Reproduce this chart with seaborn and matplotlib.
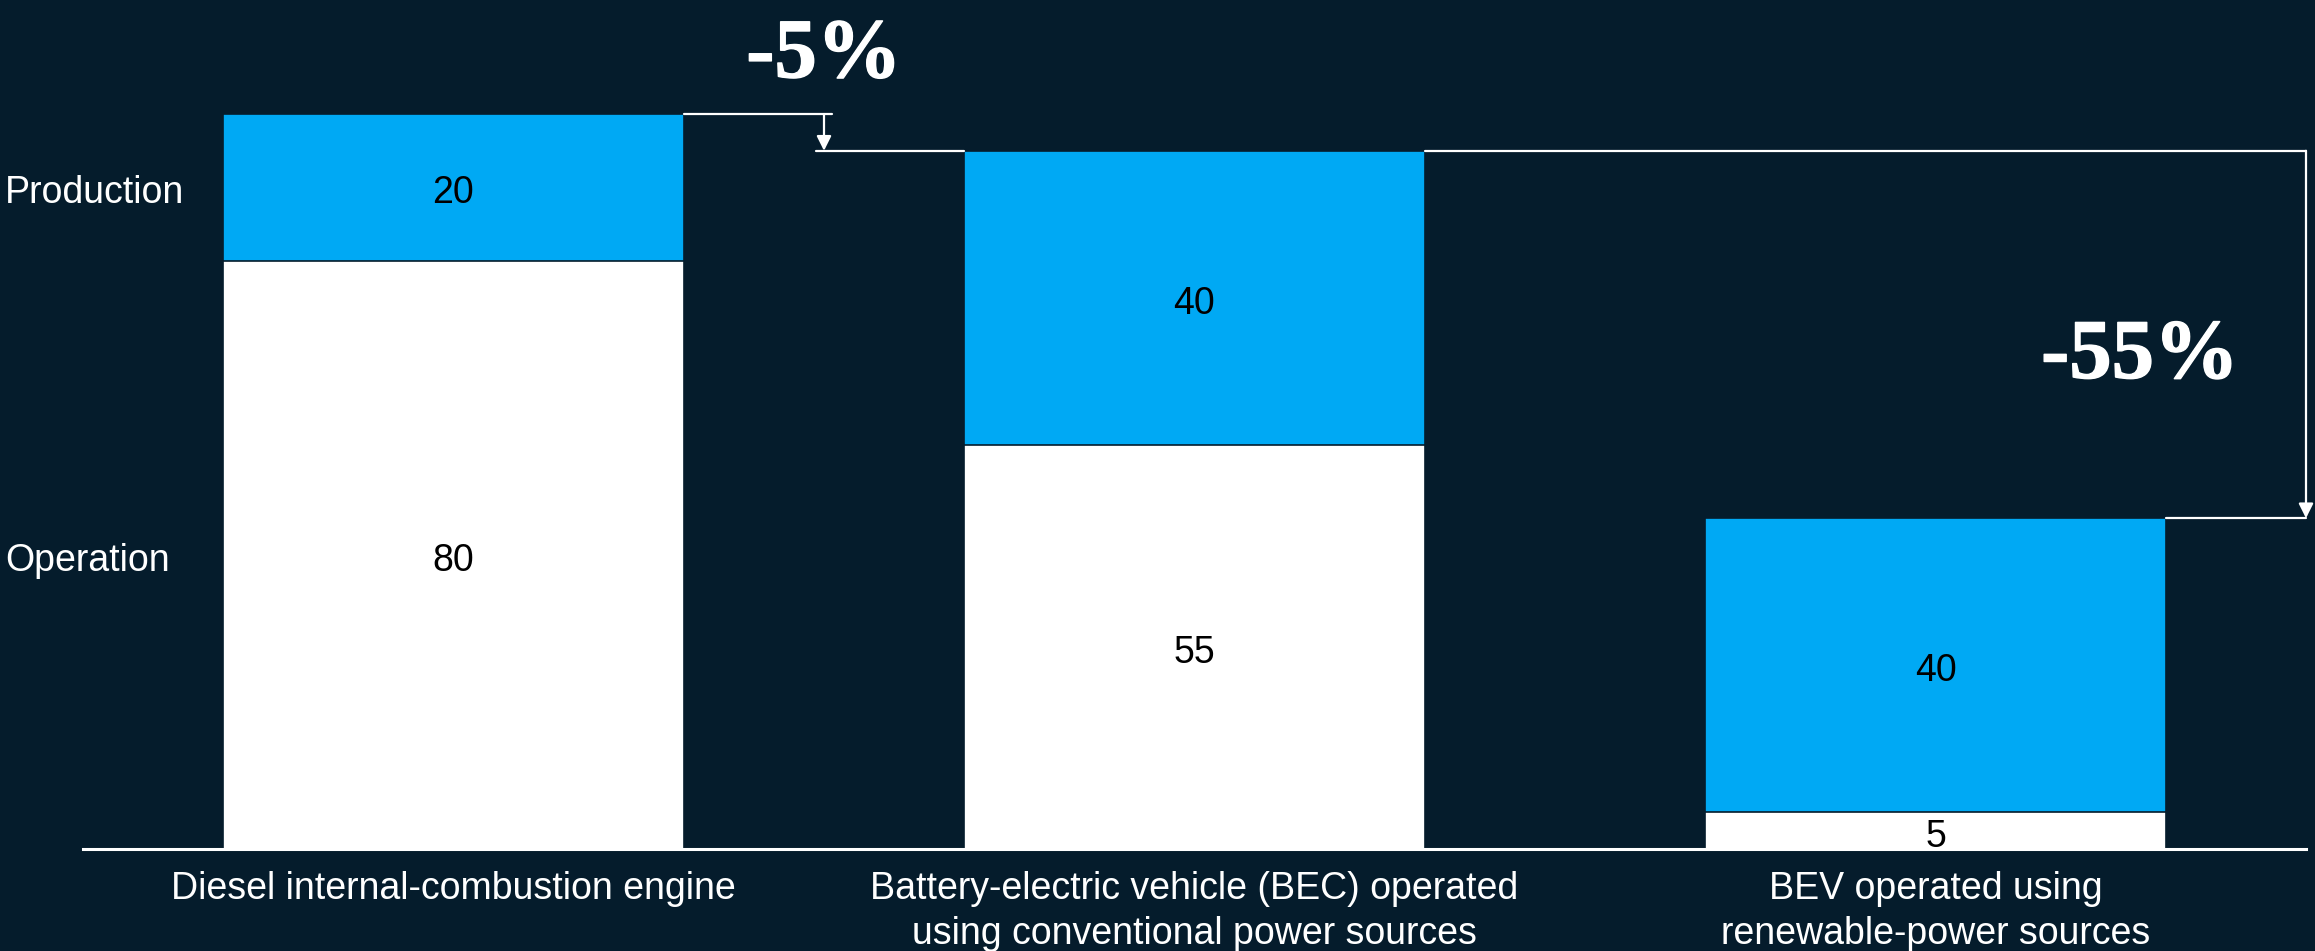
import matplotlib
matplotlib.use("Agg")
import matplotlib.pyplot as plt
import matplotlib.transforms as mtransforms
import matplotlib.patheffects as pe
import seaborn as sns
import pandas as pd

# ---- data ----
categories = [
    "Diesel internal-combustion engine",
    "Battery-electric vehicle (BEC) operated\nusing conventional power sources",
    "BEV operated using\nrenewable-power sources",
]
operation = [80, 55, 5]
production = [20, 40, 40]
series_names = ["Operation", "Production"]
change_labels = ["-5%", "-55%"]

BG = "#051C2C"
BLUE = "#00A9F4"
WHITE = "#FFFFFF"

sns.set_theme(style="white")
plt.rcParams["font.family"] = ["Liberation Sans", "DejaVu Sans"]

totals = [o + p for o, p in zip(operation, production)]
df = pd.DataFrame({"category": categories, "operation": operation,
                   "production": production, "total": totals})

fig = plt.figure(figsize=(23.15, 9.51), dpi=100, facecolor=BG)
ax = fig.add_axes([83 / 2315, 102 / 951, 2223 / 2315, 849 / 951])
ax.set_facecolor(BG)

bw = 0.622
sns.barplot(data=df, x="category", y="total", color=BLUE, saturation=1,
            width=bw, edgecolor=BG, linewidth=1.2, ax=ax, order=categories)
sns.barplot(data=df, x="category", y="operation", color=WHITE, saturation=1,
            width=bw, edgecolor=BG, linewidth=1.2, ax=ax, order=categories)

ax.set_xlim(-0.5, 2.5)
ax.set_ylim(0, 849 / 7.35)
ax.set_xlabel("")
ax.set_ylabel("")
ax.set_yticks([])
for s in ["left", "top", "right"]:
    ax.spines[s].set_visible(False)
ax.spines["bottom"].set_color(WHITE)
ax.spines["bottom"].set_linewidth(2.2)
ax.spines["bottom"].set_zorder(5)
ax.tick_params(axis="x", length=0, pad=16, labelsize=27, labelcolor=WHITE)
for lab in ax.get_xticklabels():
    lab.set_linespacing(1.32)

# text slightly lowered to match reference
low = mtransforms.offset_copy(ax.transData, fig=fig, x=0, y=-4.3, units="points")

# segment value labels
fs = 27
for i in range(len(categories)):
    ax.text(i, operation[i] / 2, str(operation[i]), ha="center", va="center",
            fontsize=fs, color="black", transform=low)
    ax.text(i, operation[i] + production[i] / 2, str(production[i]),
            ha="center", va="center", fontsize=fs, color="black", transform=low)

# series labels at left, aligned with first bar segments
ax.text(-0.605, operation[0] + production[0] / 2, series_names[1],
        ha="left", va="center", fontsize=fs, color=WHITE, clip_on=False,
        transform=low)
ax.text(-0.605, operation[0] / 2, series_names[0],
        ha="left", va="center", fontsize=fs, color=WHITE, clip_on=False,
        transform=low)

# change annotations
lw = 1.6
h = bw / 2
bold = [pe.withStroke(linewidth=1.0, foreground=WHITE)]
serif = ["Liberation Serif", "DejaVu Serif"]
# -5%: bar 0 -> bar 1
ax.plot([h, 0.511], [totals[0], totals[0]], color=WHITE, lw=lw, clip_on=False)
ax.plot([0.489, 1 - h], [totals[1], totals[1]], color=WHITE, lw=lw, clip_on=False)
ax.annotate("", xy=(0.5, totals[1]), xytext=(0.5, totals[0]),
            arrowprops=dict(arrowstyle="-|>", color=WHITE, lw=lw,
                            mutation_scale=22, shrinkA=0, shrinkB=0))
ax.text(0.5, 105, change_labels[0], ha="center", va="baseline",
        fontsize=61, color=WHITE, fontweight="bold", family=serif,
        path_effects=bold)

# -55%: bar 1 -> bar 2
ax.plot([1 + h, 2.5], [totals[1], totals[1]], color=WHITE, lw=lw, clip_on=False)
ax.plot([2 + h, 2.5], [totals[2], totals[2]], color=WHITE, lw=lw, clip_on=False)
ax.annotate("", xy=(2.5, totals[2]), xytext=(2.5, totals[1]),
            arrowprops=dict(arrowstyle="-|>", color=WHITE, lw=lw,
                            mutation_scale=22, shrinkA=0, shrinkB=0),
            annotation_clip=False)
ax.text(2.276, 64.1, change_labels[1], ha="center", va="baseline",
        fontsize=61, color=WHITE, fontweight="bold", family=serif,
        path_effects=bold)

fig.savefig("out.png", dpi=100, facecolor=BG)
